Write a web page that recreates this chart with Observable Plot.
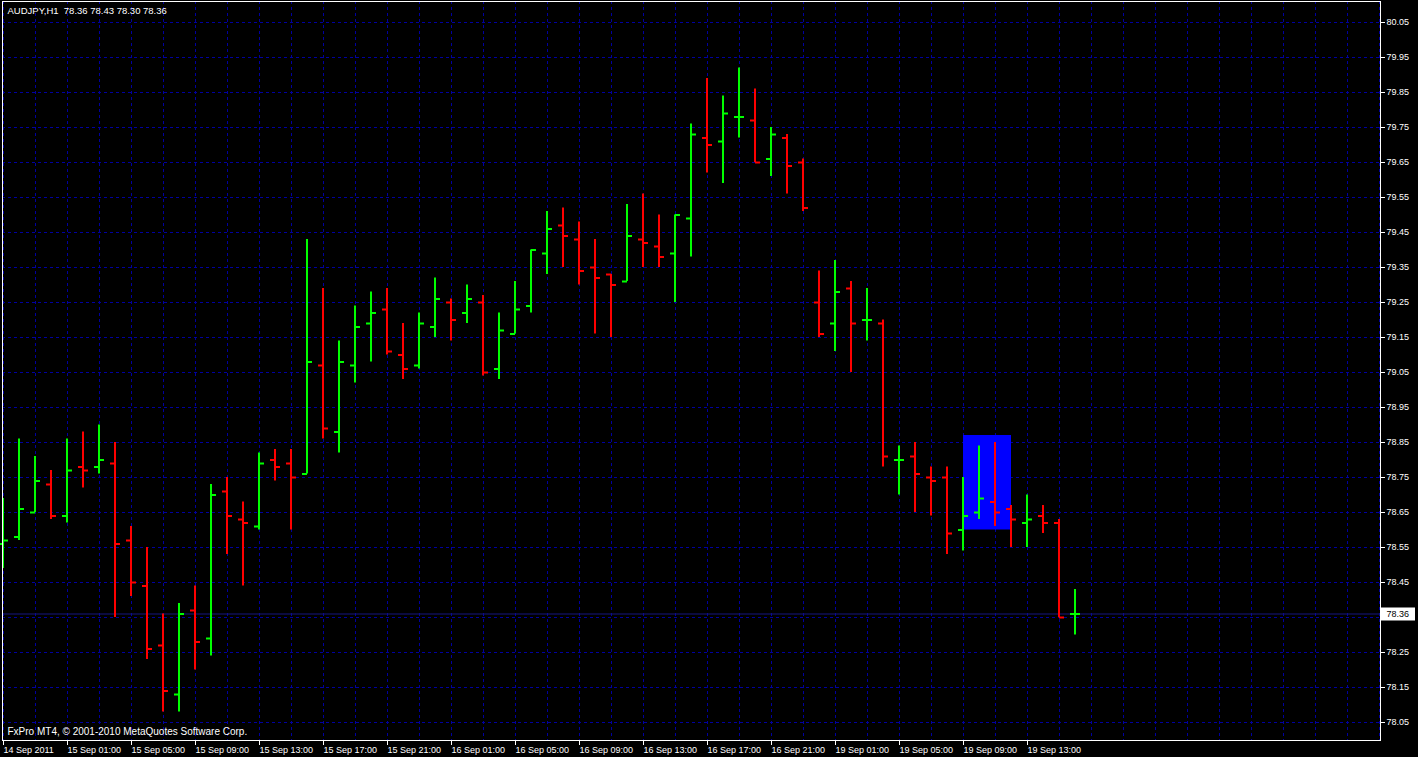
<!DOCTYPE html>
<html>
<head>
<meta charset="utf-8">
<script src="https://cdn.jsdelivr.net/npm/d3@7"></script>
<script src="https://cdn.jsdelivr.net/npm/@observablehq/plot@0.6"></script>
<style>
html, body { margin: 0; padding: 0; background: #000; overflow: hidden; }
#chart svg { display: block; }
#chart svg text { white-space: pre; }
</style>
</head>
<body>
<div id="chart"></div>
<script>
// ---- data (AUDJPY, H1; bar 0 = 14 Sep 2011 21:00) ----
const symbol = "AUDJPY,H1";
const footerText = "FxPro MT4, © 2001-2010 MetaQuotes Software Corp.";

const opens = [
  78.56, 78.58, 78.65, 78.73, 78.64, 78.78, 78.78, 78.79, 78.57, 78.44,
  78.27, 78.13, 78.37, 78.29, 78.71, 78.63, 78.61, 78.80, 78.79, 78.76,
  79.07, 78.88, 79.07, 79.19, 79.23, 79.10, 79.07, 79.18, 79.25, 79.22,
  79.25, 79.06, 79.16, 79.24, 79.39, 79.47, 79.43, 79.35, 79.33, 79.31,
  79.43, 79.41, 79.39, 79.49, 79.72, 79.71, 79.78, 79.77, 79.66, 79.72,
  79.65, 79.25, 79.19, 79.29, 79.20, 79.19, 78.80, 78.81, 78.75, 78.75,
  78.60, 78.65, 78.68, 78.66, 78.62, 78.64, 78.62, 78.36
];
const highs = [
  78.69, 78.86, 78.81, 78.77, 78.86, 78.88, 78.90, 78.85, 78.61, 78.55,
  78.36, 78.39, 78.44, 78.73, 78.75, 78.68, 78.82, 78.83, 78.83, 79.43,
  79.29, 79.14, 79.24, 79.28, 79.29, 79.19, 79.22, 79.32, 79.26, 79.30,
  79.27, 79.22, 79.31, 79.40, 79.51, 79.52, 79.48, 79.43, 79.33, 79.53,
  79.56, 79.50, 79.50, 79.76, 79.89, 79.84, 79.92, 79.86, 79.75, 79.73,
  79.66, 79.34, 79.37, 79.31, 79.29, 79.20, 78.84, 78.85, 78.78, 78.78,
  78.75, 78.84, 78.85, 78.67, 78.70, 78.67, 78.63, 78.43
];
const lows = [
  78.49, 78.57, 78.65, 78.63, 78.62, 78.72, 78.76, 78.35, 78.41, 78.23,
  78.08, 78.08, 78.20, 78.24, 78.53, 78.44, 78.60, 78.74, 78.60, 78.76,
  78.86, 78.82, 79.02, 79.08, 79.10, 79.03, 79.06, 79.15, 79.14, 79.19,
  79.04, 79.03, 79.16, 79.22, 79.33, 79.35, 79.30, 79.16, 79.15, 79.31,
  79.35, 79.35, 79.25, 79.38, 79.62, 79.59, 79.72, 79.65, 79.61, 79.56,
  79.51, 79.15, 79.11, 79.05, 79.14, 78.78, 78.70, 78.65, 78.64, 78.53,
  78.54, 78.63, 78.61, 78.55, 78.55, 78.59, 78.35, 78.30
];
const closes = [
  78.57, 78.66, 78.74, 78.64, 78.77, 78.77, 78.80, 78.56, 78.45, 78.26,
  78.14, 78.36, 78.28, 78.70, 78.64, 78.62, 78.79, 78.78, 78.75, 79.08,
  78.89, 79.08, 79.18, 79.22, 79.11, 79.06, 79.19, 79.26, 79.20, 79.26,
  79.05, 79.17, 79.23, 79.40, 79.46, 79.44, 79.34, 79.32, 79.30, 79.44,
  79.42, 79.38, 79.50, 79.73, 79.70, 79.79, 79.78, 79.65, 79.73, 79.64,
  79.52, 79.16, 79.28, 79.19, 79.20, 78.81, 78.80, 78.76, 78.74, 78.59,
  78.64, 78.69, 78.65, 78.63, 78.63, 78.62, 78.35, 78.36
];

// time axis labels (every 4 bars)
const timeTickIndex = [0, 4, 8, 12, 16, 20, 24, 28, 32, 36, 40, 44, 48, 52, 56, 60, 64];
const timeTickLabels = [
  "14 Sep 2011", "15 Sep 01:00", "15 Sep 05:00", "15 Sep 09:00", "15 Sep 13:00",
  "15 Sep 17:00", "15 Sep 21:00", "16 Sep 01:00", "16 Sep 05:00", "16 Sep 09:00",
  "16 Sep 13:00", "16 Sep 17:00", "16 Sep 21:00", "19 Sep 01:00", "19 Sep 05:00",
  "19 Sep 09:00", "19 Sep 13:00"
];
// price axis labels
const priceTicks = [
  78.05, 78.15, 78.25, 78.35, 78.45, 78.55, 78.65, 78.75, 78.85, 78.95, 79.05,
  79.15, 79.25, 79.35, 79.45, 79.55, 79.65, 79.75, 79.85, 79.95, 80.05
];
// drawn rectangle object (bar index range, price range)
const rectStartBar = [60];
const rectEndBar = [63];
const rectLowPrice = [78.60];
const rectHighPrice = [78.87];

// ---- build table ----
const bars = opens.map((o, i) => ({ i, open: o, high: highs[i], low: lows[i], close: closes[i] }));
const rects = rectStartBar.map((s, k) => ({ x1: s, x2: rectEndBar[k], y1: rectLowPrice[k], y2: rectHighPrice[k] }));
const last = bars[bars.length - 1];
const header = `${symbol}  ${last.open.toFixed(2)} ${last.high.toFixed(2)} ${last.low.toFixed(2)} ${last.close.toFixed(2)}`;

// ---- layout ----
const W = 1418, H = 757;
const mL = 2, mR = 38, mT = 1, mB = 17;
const barStep = 16, firstBarPx = 3;          // px between bars, px of bar 0
const pxPerUnit = 350, refPrice = 79.95, refPx = 57;
const xDomain = [(mL - firstBarPx) / barStep, (W - mR - firstBarPx) / barStep];
const yDomain = [refPrice - (H - mB - refPx) / pxPerUnit, refPrice + (refPx - mT) / pxPerUnit];
const tickLen = 5 / barStep;
const vGrid = d3.range(0, Math.floor(xDomain[1]) + 1, 2);

const up = "#00ff00", down = "#ff0000";
const gridColor = "#0000a0";
const colorOf = d => d.close >= d.open ? up : down;

const chart = Plot.plot({
  width: W, height: H,
  marginLeft: mL, marginRight: mR, marginTop: mT, marginBottom: mB,
  style: { background: "#000", color: "#fff", fontFamily: "Liberation Sans, Arial, sans-serif", fontSize: "9px" },
  x: { type: "linear", domain: xDomain },
  y: { type: "linear", domain: yDomain },
  marks: [
    Plot.ruleY(priceTicks, { stroke: gridColor, strokeDasharray: "3,3" }),
    Plot.ruleX(vGrid, { stroke: gridColor, strokeDasharray: "3,3" }),
    Plot.rect(rects, { x1: "x1", x2: "x2", y1: "y1", y2: "y2", fill: "#0000ff" }),
    Plot.ruleY([last.close], { stroke: "#16167e", strokeWidth: 1 }),
    Plot.ruleX(bars, { x: "i", y1: "low", y2: "high", stroke: colorOf, strokeWidth: 2, dx: -0.5 }),
    Plot.ruleY(bars, { y: "open", x1: d => d.i - tickLen, x2: d => d.i, stroke: colorOf, strokeWidth: 2 }),
    Plot.ruleY(bars, { y: "close", x1: d => d.i, x2: d => d.i + tickLen, stroke: colorOf, strokeWidth: 2 }),
    Plot.frame({ stroke: "#fff" }),
    Plot.axisY({ ticks: priceTicks, anchor: "right", tickSize: 4, tickPadding: 2, tickFormat: d => d.toFixed(2), label: null, color: "#fff", fontSize: 9 }),
    Plot.axisX({ ticks: timeTickIndex, anchor: "bottom", tickSize: 5, tickPadding: 1, textAnchor: "start",
                 tickFormat: v => timeTickLabels[timeTickIndex.indexOf(v)], label: null, color: "#fff", fontSize: 9 }),
    // current price box on the scale
    Plot.ruleY([last.close], { x1: xDomain[1], x2: xDomain[1] + 35 / barStep, stroke: "#fff", strokeWidth: 13 }),
    Plot.text([last.close], { y: d => d, frameAnchor: "right", dx: 6, textAnchor: "start", text: d => d.toFixed(2), fill: "#000", fontSize: 9 }),
    // header & footer
    Plot.text([header], { text: d => d, frameAnchor: "top-left", dx: 5, dy: 6, textAnchor: "start", lineAnchor: "top", fill: "#fff", fontSize: 9.5 }),
    Plot.text([footerText], { text: d => d, frameAnchor: "bottom-left", dx: 5, dy: -9, textAnchor: "start", lineAnchor: "middle", fill: "#fff", fontSize: 10 })
  ]
});
document.getElementById("chart").appendChild(chart);
</script>
</body>
</html>
